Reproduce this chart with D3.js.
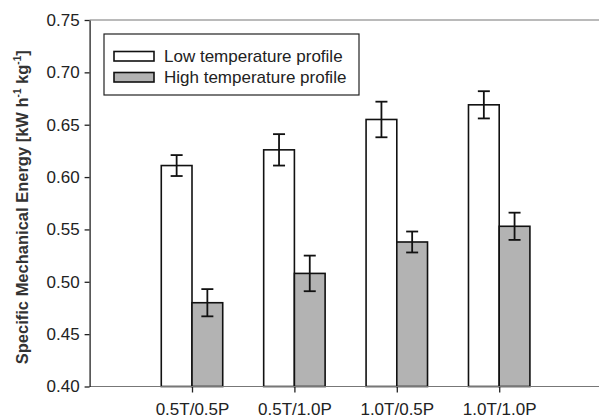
<!DOCTYPE html>
<html>
<head>
<meta charset="utf-8">
<script src="https://cdn.jsdelivr.net/npm/d3@7"></script>
<style>
  body { margin: 0; background: #fff; }
  text { font-family: "Liberation Sans", Arial, sans-serif; }
</style>
</head>
<body>
<div id="chart"></div>
<script>
// data
var categories = ['0.5T/0.5P', '0.5T/1.0P', '1.0T/0.5P', '1.0T/1.0P'];
var lowValues = [0.611, 0.626, 0.655, 0.669];
var lowErrors = [0.010, 0.015, 0.017, 0.013];
var highValues = [0.480, 0.508, 0.538, 0.553];
var highErrors = [0.013, 0.017, 0.010, 0.013];
var yTicks = [0.40, 0.45, 0.50, 0.55, 0.60, 0.65, 0.70, 0.75];
var seriesNames = ['Low temperature profile', 'High temperature profile'];
var seriesFill = ['#ffffff', '#b3b3b3'];

var width = 599, height = 418;

var svg = d3.select('#chart').append('svg')
    .attr('width', width)
    .attr('height', height);

// x is a plain position scale, groups sit at 1..4
var x = d3.scaleLinear().domain([0, 5]).range([89.6, 601.6]);
var y = d3.scaleLinear().domain([0.40, 0.75]).range([386.5, 20]);
var barW = 0.3; // in x units

// top frame line
svg.append('line')
    .attr('x1', x(0)).attr('x2', width)
    .attr('y1', y(0.75)).attr('y2', y(0.75))
    .attr('stroke', '#777').attr('stroke-width', 1.2);

// bars
var series = [
    {vals: lowValues, errs: lowErrors, off: -barW, fill: seriesFill[0]},
    {vals: highValues, errs: highErrors, off: 0, fill: seriesFill[1]}
];

series.forEach(function(s) {
    svg.append('g').selectAll('rect')
        .data(s.vals)
        .enter()
        .append('rect')
        .attr('x', function(d, i) { return x(i + 1 + s.off) })
        .attr('width', x(barW) - x(0))
        .attr('y', function(d) { return y(d) })
        .attr('height', function(d) { return y(0.40) - y(d) })
        .attr('fill', s.fill)
        .attr('stroke', '#111')
        .attr('stroke-width', 1.6);

    // error bars
    var g = svg.append('g').attr('stroke', '#111').attr('stroke-width', 1.8);
    s.vals.forEach(function(v, i) {
        var cx = x(i + 1 + s.off + barW / 2);
        var e = s.errs[i];
        g.append('line').attr('x1', cx).attr('x2', cx).attr('y1', y(v + e)).attr('y2', y(v - e));
        g.append('line').attr('x1', cx - 6).attr('x2', cx + 6).attr('y1', y(v + e)).attr('y2', y(v + e));
        g.append('line').attr('x1', cx - 6).attr('x2', cx + 6).attr('y1', y(v - e)).attr('y2', y(v - e));
    });
});

// x axis
var xAxis = svg.append('g')
    .attr('transform', 'translate(0,' + y(0.40) + ')')
    .call(d3.axisBottom(x)
        .tickValues([1, 2, 3, 4])
        .tickFormat(function(d) { return categories[d - 1] })
        .tickSize(6)
        .tickSizeOuter(0));
xAxis.select('.domain').remove();
xAxis.append('line')
    .attr('x1', x(0)).attr('x2', width)
    .attr('stroke', '#777').attr('stroke-width', 1.2);
xAxis.selectAll('.tick line').attr('stroke', '#222').attr('stroke-width', 1.3);
xAxis.selectAll('.tick text')
    .attr('y', 16.5)
    .attr('font-size', 17)
    .attr('fill', '#222')
    .attr('font-family', '"Liberation Sans", Arial, sans-serif');

// y axis
var yAxis = svg.append('g')
    .attr('transform', 'translate(' + x(0) + ',0)')
    .call(d3.axisLeft(y)
        .tickValues(yTicks)
        .tickFormat(d3.format('.2f'))
        .tickSize(5)
        .tickSizeOuter(0));
yAxis.select('.domain').attr('stroke', '#222').attr('stroke-width', 1.3);
yAxis.selectAll('.tick line').attr('stroke', '#222').attr('stroke-width', 1.3);
yAxis.selectAll('.tick text')
    .attr('x', -10)
    .attr('font-size', 17)
    .attr('fill', '#222')
    .attr('font-family', '"Liberation Sans", Arial, sans-serif');

// y label with superscripts
var yLab = svg.append('text')
    .attr('transform', 'translate(28,' + ((y(0.40) + y(0.75)) / 2 + 4) + ') rotate(-90)')
    .attr('text-anchor', 'middle')
    .attr('font-size', 16.5)
    .attr('font-weight', 'bold')
    .attr('fill', '#333');
yLab.append('tspan').text('Specific Mechanical Energy [kW h');
yLab.append('tspan').attr('dy', -7).attr('font-size', 10).text('-1');
yLab.append('tspan').attr('dy', 7).text(' kg');
yLab.append('tspan').attr('dy', -7).attr('font-size', 10).text('-1');
yLab.append('tspan').attr('dy', 7).text(']');

// legend
var legend = svg.append('g');
legend.append('rect')
    .attr('x', 104).attr('y', 34)
    .attr('width', 255).attr('height', 61)
    .attr('fill', '#fff')
    .attr('stroke', '#222').attr('stroke-width', 1.2);

var items = legend.selectAll('.item')
    .data(seriesNames)
    .enter()
    .append('g')
    .attr('transform', function(d, i) { return 'translate(114,' + (51.5 + i * 21) + ')' });
items.append('rect')
    .attr('width', 40).attr('height', 9.5)
    .attr('fill', function(d, i) { return seriesFill[i] })
    .attr('stroke', '#111').attr('stroke-width', 1.6);
items.append('text')
    .attr('x', 50).attr('y', 10)
    .attr('font-size', 17)
    .attr('fill', '#222')
    .text(function(d) { return d });
</script>
</body>
</html>
